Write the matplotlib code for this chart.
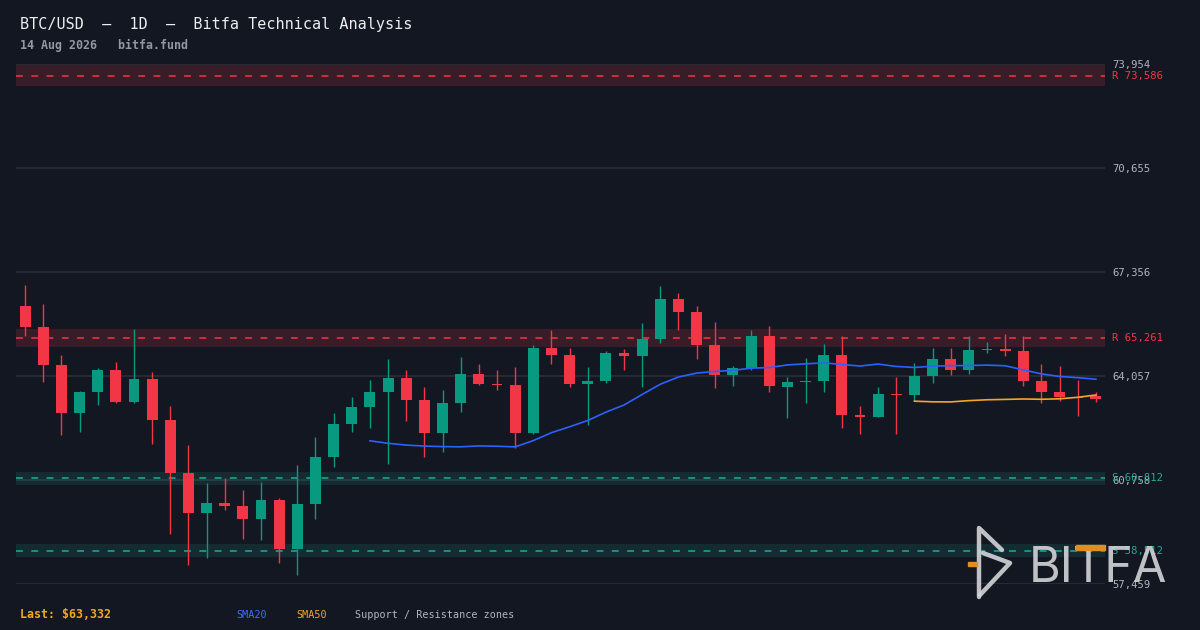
import matplotlib
matplotlib.use("Agg")
import matplotlib.pyplot as plt
import numpy as np
import pandas as pd
from matplotlib.lines import Line2D
from matplotlib.patches import Rectangle

# ---------------- data ----------------
opens = [66287, 65621, 64415, 62871, 63537, 64257, 63220, 63971, 62671, 60990,
         59699, 60038, 59943, 59508, 60133, 58557, 59984, 61475, 62522, 63061,
         63537, 64003, 63305, 62236, 63188, 64130, 63813, 63781, 62236, 64955,
         64733, 63791, 63886, 64796, 64679, 65218, 66509, 66097, 65050, 64076,
         64298, 65335, 63695, 63854, 63886, 64733, 62820, 62744, 63496, 63442,
         64044, 64606, 64235, 64869, 64923, 64860, 63908, 63559, 63400, 63432]
highs = [66953, 66350, 64733, 63591, 64320, 64511, 65557, 64193, 63115, 61878,
         60672, 60831, 60450, 60704, 60196, 61243, 62132, 62893, 63400, 63940,
         64606, 64257, 63718, 63622, 64670, 64447, 64257, 64352, 65050, 65526,
         64955, 64352, 64837, 64923, 65748, 66921, 66699, 66287, 65779, 64384,
         65526, 65653, 64035, 64637, 65082, 65335, 63115, 63718, 64035, 64479,
         64955, 64955, 65335, 65145, 65399, 65335, 64447, 64384, 63940, 63559]
lows = [65313, 63854, 62173, 62268, 63124, 63200, 63200, 61887, 59033, 58049,
        58271, 59794, 58874, 58842, 58113, 57732, 59508, 61158, 62268, 62395,
        61253, 62617, 61475, 61634, 62902, 63759, 63600, 61761, 62205, 64425,
        63695, 62490, 63822, 64235, 63695, 65091, 65503, 64584, 63664, 63727,
        64235, 63537, 62712, 63188, 63537, 62395, 62205, 62744, 62205, 63251,
        63822, 64076, 64108, 64774, 64679, 63727, 63188, 63251, 62776, 63220]
closes = [65599, 64393, 62871, 63559, 64257, 63220, 63971, 62649, 60967, 59699,
          60038, 59921, 59508, 60133, 58557, 60006, 61497, 62544, 63083, 63559,
          64003, 63283, 62236, 63210, 64130, 63791, 63770, 62236, 64955, 64710,
          63791, 63908, 64796, 64679, 65240, 66509, 66074, 65028, 64076, 64320,
          65335, 63727, 63876, 63908, 64733, 62807, 62744, 63496, 63442, 64067,
          64606, 64235, 64891, 64923, 64837, 63886, 63537, 63378, 63346, 63332]

resistance_levels = [73586, 65261]
support_levels = [60812, 58512]
y_ticks = [57459, 60758, 64057, 67356, 70655, 73954]
last_price = 63332
title_text = "BTC/USD  \u2014  1D  \u2014  Bitfa Technical Analysis"
subtitle_text = "14 Aug 2026   bitfa.fund"

# ---------------- style ----------------
BG = "#131722"
GRID = "#2a2e39"
GREEN = "#089981"
RED = "#f23645"
TEAL = "#22ab94"
BLUE = "#2962ff"
ORANGE = "#f5a524"
TXT = "#b2b5be"
MONO = ["DejaVu Sans Mono"]

W, H = 1200, 630
fig = plt.figure(figsize=(12, 6.3), dpi=100, facecolor=BG)
L, R, T, B = 16, 1105, 64, 584
ax = fig.add_axes([L / W, 1 - B / H, (R - L) / W, (B - T) / H])
ax.set_facecolor(BG)
for s in ax.spines.values():
    s.set_visible(False)

n = len(closes)
x = np.arange(n)
o = np.array(opens, float)
c = np.array(closes, float)
hi = np.array(highs, float)
lo = np.array(lows, float)
up = c >= o
cols = np.where(up, GREEN, RED)

ax.set_xlim(-0.5, n - 0.5)
ax.set_ylim(y_ticks[0], y_ticks[-1])

# grid
for t in y_ticks:
    ax.axhline(t, color=GRID, lw=1.2, zorder=0)

# zones
for lvl in resistance_levels:
    ax.axhspan(lvl * 0.9956, lvl * 1.0044, color=RED, alpha=0.17, lw=0, zorder=1)
    ax.axhline(lvl, color=RED, lw=1.1, ls=(0, (4.5, 5.5)), zorder=2)
for lvl in support_levels:
    ax.axhspan(lvl * 0.9965, lvl * 1.0035, color=TEAL, alpha=0.14, lw=0, zorder=1)
    ax.axhline(lvl, color=TEAL, lw=1.1, ls=(0, (4.5, 5.5)), zorder=2)

# candles
ax.vlines(x, lo, hi, colors=cols, lw=1.0, zorder=3)
body_h = np.maximum(np.abs(c - o), 20)
ax.bar(x, body_h, bottom=np.minimum(o, c), width=0.6, color=cols, lw=0, zorder=4)

# SMAs
cs = pd.Series(c)
sma20 = cs.rolling(20).mean()
sma50 = cs.rolling(50).mean()
ax.plot(x, sma20, color=BLUE, lw=1.2, zorder=5)
ax.plot(x, sma50, color=ORANGE, lw=1.2, zorder=5)

# axis ticks (right)
ax.set_xticks([])
ax.yaxis.tick_right()
ax.set_yticks(y_ticks)
ax.set_yticklabels([f"{t:,}" for t in y_ticks], family=MONO, fontsize=7.6, color=TXT)
ax.tick_params(axis="y", length=0, pad=5)

for lvl in resistance_levels:
    ax.text(1.0063, lvl, f"R {lvl:,}", transform=ax.get_yaxis_transform(),
            color=RED, fontsize=7.6, family=MONO, va="center", ha="left")
for lvl in support_levels:
    ax.text(1.0063, lvl, f"S {lvl:,}", transform=ax.get_yaxis_transform(),
            color=TEAL, fontsize=7.6, family=MONO, va="center", ha="left")

# titles
def fx(px):
    return px / W

def fy(py):
    return 1 - py / H

fig.text(fx(20), fy(24), title_text, family=MONO, fontsize=10.9, color="#eceef1", va="center", ha="left")
fig.text(fx(20), fy(45), subtitle_text, family=MONO, fontsize=8.4, color="#9598a1",
         fontweight="bold", va="center", ha="left")

# bottom legend
fig.text(fx(20), fy(614), f"Last: ${last_price:,}", family=MONO, fontsize=8.4, color=ORANGE,
         fontweight="bold", va="center", ha="left")
fig.text(fx(236), fy(615), "SMA20", family=MONO, fontsize=7.3, color="#3d6ff5", va="center", ha="left")
fig.text(fx(296), fy(615), "SMA50", family=MONO, fontsize=7.3, color=ORANGE, va="center", ha="left")
fig.text(fx(355), fy(615), "Support / Resistance zones", family=MONO, fontsize=7.3, color=TXT,
         va="center", ha="left")

# watermark logo
LOGO = "#d4d5d8"
segs = [[(979, 597), (979, 528), (1002, 550)],
        [(983, 553), (1010, 563), (980, 595)]]
for sg in segs:
    xs = [fx(p[0]) for p in sg]
    ys = [fy(p[1]) for p in sg]
    fig.add_artist(Line2D(xs, ys, transform=fig.transFigure, color=LOGO, lw=3.2,
                          solid_capstyle="round", solid_joinstyle="round", alpha=0.9, zorder=10))
fig.text(fx(1029), fy(582), "BITFA", family=["Inter", "DejaVu Sans"], fontsize=35, color=LOGO,
         alpha=0.9, va="baseline", ha="left", zorder=10)
fig.add_artist(Rectangle((fx(1076), fy(550)), (1105 - 1076) / W, 5 / H, transform=fig.transFigure,
                         color="#e08f1e", zorder=12))
fig.add_artist(Rectangle((fx(968), fy(566)), (977 - 968) / W, 4 / H, transform=fig.transFigure,
                         color="#e08f1e", zorder=12))

fig.savefig("out.png", dpi=100, facecolor=BG)
